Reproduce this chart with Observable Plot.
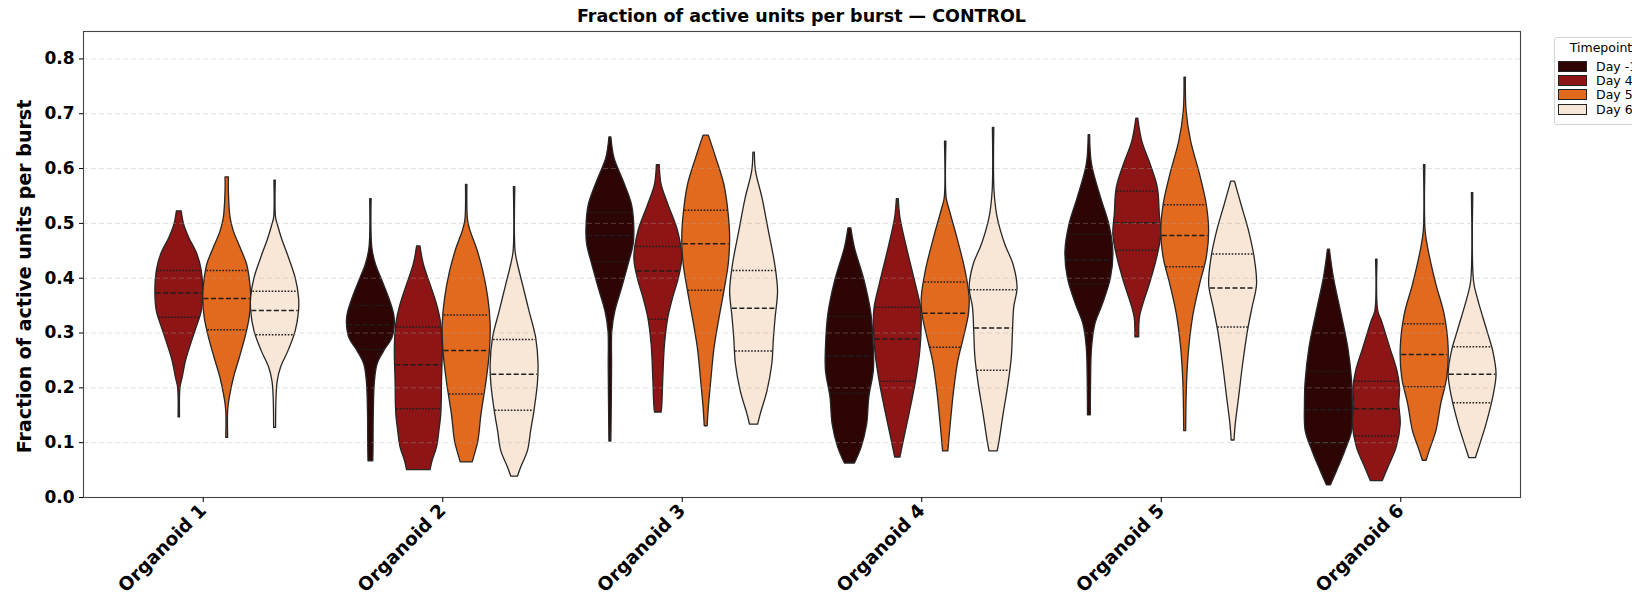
<!DOCTYPE html>
<html>
<head>
<meta charset="utf-8">
<script src="https://cdn.jsdelivr.net/npm/d3@7"></script>
<script src="https://cdn.jsdelivr.net/npm/@observablehq/plot@0.6"></script>
<style>
  html, body { margin: 0; padding: 0; background: #fff; overflow: hidden; }
  #wrap { position: relative; width: 1632px; height: 596px; overflow: hidden; font-family: "DejaVu Sans", sans-serif; }
  #title { position: absolute; left: 83px; width: 1437px; top: 6px; text-align: center; font-size: 17.5px; font-weight: bold; line-height: 20px; color: #000; }
  #chart { position: absolute; left: 0; top: 0; }
  #legend { position: absolute; left: 1554px; top: 37px; width: 92px; border: 1px solid #d4d4d4; border-radius: 3px; background: #fff; font-size: 12.5px; color: #000; padding: 3px 0 7px 0; white-space: nowrap; }
  #legend .lt { text-align: center; line-height: 14px; margin-bottom: 4px; }
  #legend .row { display: flex; align-items: center; height: 14.4px; }
  #legend .sw { display: inline-block; width: 27px; height: 9px; border: 1px solid #222; margin-left: 3px; margin-right: 9px; }
</style>
</head>
<body>
<div id="wrap">
  <div id="chart"></div>
  <div id="title"></div>
  <div id="legend"></div>
</div>
<script>
// ---------------- data ----------------
const titleText = "Fraction of active units per burst — CONTROL";
const yLabel = "Fraction of active units per burst";
const legendTitle = "Timepoint";
const organoids = ["Organoid 1", "Organoid 2", "Organoid 3", "Organoid 4", "Organoid 5", "Organoid 6"];
const timepoints = ["Day -1", "Day 4", "Day 5", "Day 6"];
const colors = ["#2e0505", "#8e1515", "#e16a1f", "#f8e6d6"];
const yTicks = [0.0, 0.1, 0.2, 0.3, 0.4, 0.5, 0.6, 0.7, 0.8];

// Violin outlines: [value, relative half-width (1 = widest)], per timepoint
const shapes1 = [
  null,
  [[0.522,0.10],[0.498,0.2],[0.473,0.42],[0.443,0.76],[0.413,0.94],[0.376,1],[0.340,0.94],[0.309,0.72],[0.279,0.49],[0.249,0.28],[0.218,0.14],[0.200,0.05],[0.146,0.03]],
  [[0.584,0.07],[0.558,0.07],[0.510,0.14],[0.485,0.28],[0.455,0.56],[0.425,0.83],[0.388,0.97],[0.364,1],[0.328,0.94],[0.291,0.76],[0.255,0.53],[0.218,0.28],[0.182,0.11],[0.158,0.04],[0.109,0.04]],
  [[0.578,0.03],[0.510,0.04],[0.498,0.11],[0.473,0.28],[0.437,0.58],[0.400,0.86],[0.364,1],[0.340,1],[0.303,0.86],[0.267,0.56],[0.237,0.25],[0.212,0.11],[0.182,0.06],[0.127,0.04]]
];
const quarts1 = [null, [0.329,0.373,0.414], [0.306,0.363,0.414], [0.297,0.341,0.376]];

const shapes2 = [
  [[0.544,0.03],[0.455,0.06],[0.425,0.21],[0.394,0.49],[0.364,0.76],[0.334,0.97],[0.316,1],[0.291,0.9],[0.267,0.56],[0.243,0.28],[0.212,0.17],[0.152,0.12],[0.091,0.11],[0.066,0.1]],
  [[0.458,0.07],[0.425,0.21],[0.388,0.49],[0.352,0.76],[0.316,0.94],[0.273,1],[0.212,0.97],[0.152,0.94],[0.121,0.86],[0.091,0.76],[0.067,0.58],[0.050,0.49]],
  [[0.570,0.03],[0.504,0.06],[0.485,0.17],[0.455,0.42],[0.413,0.69],[0.364,0.9],[0.316,1],[0.267,0.97],[0.212,0.83],[0.152,0.62],[0.103,0.49],[0.079,0.35],[0.064,0.25]],
  [[0.566,0.03],[0.449,0.04],[0.425,0.14],[0.388,0.35],[0.340,0.62],[0.291,0.9],[0.243,1],[0.206,0.97],[0.152,0.81],[0.121,0.69],[0.085,0.56],[0.055,0.28],[0.038,0.14]]
];
const quarts2 = [[0.27,0.315,0.35], [0.162,0.242,0.311], [0.189,0.268,0.333], [0.159,0.225,0.288]];

const shapes3 = [
  [[0.657,0.04],[0.619,0.17],[0.576,0.56],[0.534,0.9],[0.491,1],[0.461,0.97],[0.425,0.76],[0.382,0.49],[0.340,0.21],[0.303,0.08],[0.243,0.07],[0.182,0.06],[0.102,0.04]],
  [[0.606,0.06],[0.570,0.14],[0.534,0.42],[0.485,0.83],[0.437,1],[0.400,0.86],[0.364,0.62],[0.328,0.42],[0.279,0.28],[0.218,0.21],[0.170,0.17],[0.155,0.14]],
  [[0.660,0.11],[0.619,0.42],[0.570,0.76],[0.516,0.94],[0.473,1],[0.425,0.94],[0.376,0.76],[0.328,0.56],[0.273,0.35],[0.212,0.21],[0.164,0.11],[0.130,0.06]],
  [[0.629,0.03],[0.595,0.08],[0.546,0.35],[0.485,0.62],[0.425,0.88],[0.376,1],[0.328,0.9],[0.291,0.83],[0.243,0.76],[0.194,0.56],[0.152,0.28],[0.133,0.17]]
];
const quarts3 = [[0.43,0.478,0.52], [0.325,0.413,0.458], [0.378,0.463,0.524], [0.267,0.345,0.414]];

const shapes4 = [
  [[0.491,0.06],[0.455,0.21],[0.394,0.62],[0.334,0.9],[0.273,1],[0.231,1],[0.182,0.81],[0.133,0.72],[0.091,0.49],[0.062,0.21]],
  [[0.544,0.04],[0.510,0.11],[0.461,0.35],[0.400,0.69],[0.346,0.97],[0.316,1],[0.267,0.94],[0.212,0.76],[0.152,0.49],[0.103,0.25],[0.073,0.11]],
  [[0.649,0.03],[0.546,0.04],[0.528,0.14],[0.473,0.49],[0.413,0.83],[0.364,1],[0.334,0.97],[0.291,0.76],[0.249,0.53],[0.194,0.35],[0.133,0.21],[0.084,0.11]],
  [[0.674,0.03],[0.558,0.04],[0.510,0.17],[0.461,0.49],[0.425,0.83],[0.382,1],[0.346,0.86],[0.303,0.81],[0.255,0.76],[0.206,0.62],[0.152,0.42],[0.103,0.25],[0.084,0.17]]
];
const quarts4 = [[0.19,0.258,0.33], [0.212,0.289,0.347], [0.274,0.336,0.393], [0.232,0.309,0.379]];

const shapes5 = [
  [[0.661,0.03],[0.607,0.11],[0.546,0.49],[0.498,0.83],[0.449,1],[0.400,0.9],[0.352,0.56],[0.316,0.25],[0.273,0.11],[0.212,0.07],[0.150,0.06]],
  [[0.691,0.04],[0.649,0.21],[0.607,0.56],[0.564,0.86],[0.516,0.94],[0.479,1],[0.437,0.83],[0.394,0.56],[0.352,0.25],[0.328,0.11],[0.292,0.08]],
  [[0.766,0.03],[0.704,0.06],[0.649,0.25],[0.589,0.62],[0.534,0.9],[0.485,1],[0.437,0.9],[0.388,0.62],[0.334,0.35],[0.273,0.17],[0.212,0.08],[0.121,0.04]],
  [[0.576,0.08],[0.534,0.35],[0.485,0.67],[0.437,0.9],[0.388,1],[0.346,0.81],[0.303,0.62],[0.243,0.42],[0.182,0.25],[0.133,0.11],[0.104,0.06]]
];
const quarts5 = [[0.39,0.433,0.48], [0.451,0.501,0.559], [0.421,0.478,0.534], [0.311,0.382,0.444]];

const shapes6 = [
  [[0.452,0.04],[0.400,0.21],[0.334,0.53],[0.273,0.81],[0.212,0.97],[0.170,1],[0.121,0.97],[0.085,0.69],[0.049,0.35],[0.022,0.08]],
  [[0.434,0.03],[0.340,0.06],[0.322,0.21],[0.273,0.56],[0.231,0.86],[0.200,0.97],[0.170,0.94],[0.133,1],[0.091,0.83],[0.055,0.49],[0.030,0.25]],
  [[0.606,0.03],[0.485,0.04],[0.449,0.17],[0.388,0.49],[0.334,0.83],[0.273,1],[0.218,0.94],[0.170,0.69],[0.121,0.49],[0.085,0.21],[0.067,0.08]],
  [[0.555,0.03],[0.394,0.06],[0.364,0.21],[0.303,0.62],[0.267,0.86],[0.225,1],[0.182,0.86],[0.133,0.58],[0.091,0.28],[0.072,0.14]]
];
const quarts6 = [[0.10,0.16,0.23], [0.112,0.162,0.212], [0.202,0.261,0.317], [0.173,0.225,0.275]];

// ---------------- build tables ----------------
const allShapes = [shapes1, shapes2, shapes3, shapes4, shapes5, shapes6];
const allQuarts = [quarts1, quarts2, quarts3, quarts4, quarts5, quarts6];
const dodge = [-0.3, -0.1, 0.1, 0.3];
const halfMax = 0.1;

function widthAt(profile, v) {
  const p = profile.slice().sort((a, b) => a[0] - b[0]);
  if (v <= p[0][0]) return p[0][1];
  for (let i = 1; i < p.length; i++) {
    if (v <= p[i][0]) {
      const t = (v - p[i-1][0]) / (p[i][0] - p[i-1][0]);
      return p[i-1][1] + t * (p[i][1] - p[i-1][1]);
    }
  }
  return p[p.length - 1][1];
}

const violinPts = [];
const medLines = [];
const quartLines = [];
allShapes.forEach((shapes, gi) => {
  shapes.forEach((prof, ti) => {
    if (!prof) return;
    const cx = gi + dodge[ti];
    const id = gi + "-" + ti;
    prof.forEach(([v, r]) => {
      violinPts.push({id, day: timepoints[ti], v, x1: cx - halfMax * r, x2: cx + halfMax * r});
    });
    const [q1, med, q3] = allQuarts[gi][ti];
    const mk = (v) => {
      const r = widthAt(prof, v) * halfMax * 0.97;
      return {v, x1: cx - r, x2: cx + r};
    };
    medLines.push(mk(med));
    quartLines.push(mk(q1), mk(q3));
  });
});

// ---------------- chart ----------------
const chart = Plot.plot({
  width: 1632,
  height: 596,
  marginLeft: 83,
  marginRight: 112,
  marginTop: 31,
  marginBottom: 99,
  style: {fontFamily: "DejaVu Sans, sans-serif", background: "#fff", color: "#000"},
  x: {domain: [-0.5, 5.5]},
  y: {domain: [0, 0.85]},
  color: {domain: timepoints, range: colors},
  marks: [
    Plot.areaX(violinPts, {y: "v", x1: "x1", x2: "x2", z: "id", fill: "day", stroke: "#262626", strokeWidth: 1.3, curve: "catmull-rom"}),
    Plot.ruleY(medLines, {y: "v", x1: "x1", x2: "x2", stroke: "#1e1e1e", strokeWidth: 1.5, strokeDasharray: "5,2.5"}),
    Plot.ruleY(quartLines, {y: "v", x1: "x1", x2: "x2", stroke: "#1e1e1e", strokeWidth: 1.5, strokeDasharray: "1.6,1.6"}),
    Plot.gridY(yTicks.slice(1), {stroke: "#a8a8a8", strokeOpacity: 0.35, strokeDasharray: "5,3", strokeWidth: 1}),
    Plot.frame({stroke: "#444", strokeWidth: 1.1}),
    Plot.axisY({ticks: yTicks, tickFormat: d3.format(".1f"), fontSize: 17, fontWeight: "bold", tickSize: 4, tickPadding: 5, label: null}),
    Plot.axisX({ticks: d3.range(organoids.length), tickFormat: i => organoids[i], tickRotate: -45, fontSize: 18.5, fontWeight: "bold", tickSize: 5, tickPadding: 5, label: null}),
    Plot.text([yLabel], {frameAnchor: "left", textAnchor: "middle", rotate: -90, dx: -59, dy: 12, fontSize: 19, fontWeight: "bold"})
  ]
});
document.getElementById("chart").appendChild(chart);
document.getElementById("title").textContent = titleText;

// ---------------- legend ----------------
const lg = document.getElementById("legend");
const lt = document.createElement("div");
lt.className = "lt";
lt.textContent = legendTitle;
lg.appendChild(lt);
timepoints.forEach((t, i) => {
  const row = document.createElement("div");
  row.className = "row";
  const sw = document.createElement("span");
  sw.className = "sw";
  sw.style.background = colors[i];
  row.appendChild(sw);
  row.appendChild(document.createTextNode(t));
  lg.appendChild(row);
});
</script>
</body>
</html>
